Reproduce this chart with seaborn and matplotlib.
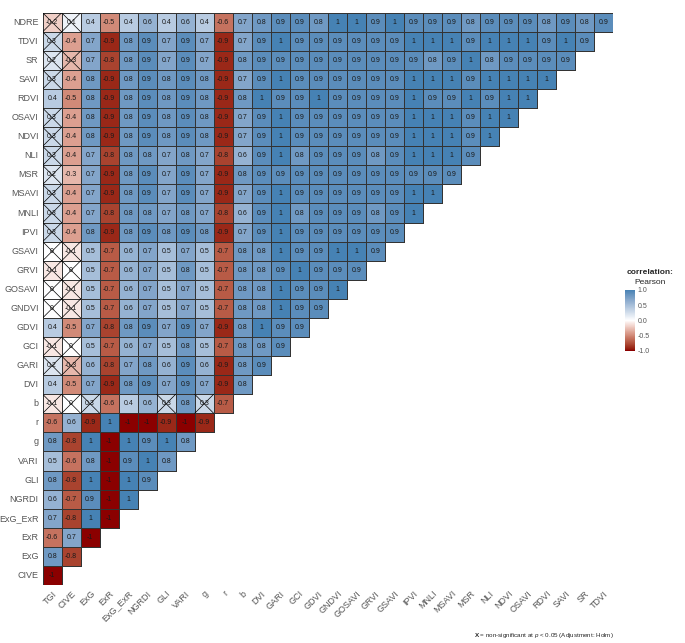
import numpy as np
import pandas as pd
import matplotlib
matplotlib.use("Agg")
import matplotlib.pyplot as plt
import seaborn as sns
from matplotlib.colors import ListedColormap, to_rgb

# column order (x axis) and row order (y axis, top to bottom)
columns = ["TGI", "CIVE", "ExG", "ExR", "ExG_ExR", "NGRDI", "GLI", "VARI", "g", "r",
           "b", "DVI", "GARI", "GCI", "GDVI", "GNDVI", "GOSAVI", "GRVI", "GSAVI", "IPVI",
           "MNLI", "MSAVI", "MSR", "NLI", "NDVI", "OSAVI", "RDVI", "SAVI", "SR", "TDVI"]
rows = ["NDRE", "TDVI", "SR", "SAVI", "RDVI", "OSAVI", "NDVI", "NLI", "MSR", "MSAVI",
        "MNLI", "IPVI", "GSAVI", "GRVI", "GOSAVI", "GNDVI", "GDVI", "GCI", "GARI", "DVI",
        "b", "r", "g", "VARI", "GLI", "NGRDI", "ExG_ExR", "ExR", "ExG", "CIVE"]

# lower triangle correlations, one list per row
NDRE = [-0.2, 0.1, 0.4, -0.5, 0.4, 0.6, 0.4, 0.6, 0.4, -0.6, 0.7, 0.8, 0.9, 0.9, 0.8,
        1, 1, 0.9, 1, 0.9, 0.9, 0.9, 0.8, 0.9, 0.9, 0.9, 0.8, 0.9, 0.8, 0.9]
TDVI = [0.3, -0.4, 0.7, -0.9, 0.8, 0.9, 0.7, 0.9, 0.7, -0.9, 0.7, 0.9, 1, 0.9, 0.9,
        0.9, 0.9, 0.9, 0.9, 1, 1, 1, 0.9, 1, 1, 1, 0.9, 1, 0.9]
SR = [0.2, -0.3, 0.7, -0.8, 0.8, 0.9, 0.7, 0.9, 0.7, -0.9, 0.8, 0.9, 0.9, 0.9, 0.9,
      0.9, 0.9, 0.9, 0.9, 0.9, 0.8, 0.9, 1, 0.8, 0.9, 0.9, 0.9, 0.9]
SAVI = [0.3, -0.4, 0.8, -0.9, 0.8, 0.9, 0.8, 0.9, 0.8, -0.9, 0.7, 0.9, 1, 0.9, 0.9,
        0.9, 0.9, 0.9, 0.9, 1, 1, 1, 0.9, 1, 1, 1, 1]
RDVI = [0.4, -0.5, 0.8, -0.9, 0.8, 0.9, 0.8, 0.9, 0.8, -0.9, 0.8, 1, 0.9, 0.9, 1,
        0.9, 0.9, 0.9, 0.9, 1, 0.9, 0.9, 1, 0.9, 1, 1]
OSAVI = [0.3, -0.4, 0.8, -0.9, 0.8, 0.9, 0.8, 0.9, 0.8, -0.9, 0.7, 0.9, 1, 0.9, 0.9,
         0.9, 0.9, 0.9, 0.9, 1, 1, 1, 0.9, 1, 1]
NDVI = [0.3, -0.4, 0.8, -0.9, 0.8, 0.9, 0.8, 0.9, 0.8, -0.9, 0.7, 0.9, 1, 0.9, 0.9,
        0.9, 0.9, 0.9, 0.9, 1, 1, 1, 0.9, 1]
NLI = [0.3, -0.4, 0.7, -0.8, 0.8, 0.8, 0.7, 0.8, 0.7, -0.8, 0.6, 0.9, 1, 0.8, 0.9,
       0.9, 0.9, 0.8, 0.9, 1, 1, 1, 0.9]
MSR = [0.2, -0.3, 0.7, -0.9, 0.8, 0.9, 0.7, 0.9, 0.7, -0.9, 0.8, 0.9, 0.9, 0.9, 0.9,
       0.9, 0.9, 0.9, 0.9, 0.9, 0.9, 0.9]
MSAVI = [0.3, -0.4, 0.7, -0.9, 0.8, 0.9, 0.7, 0.9, 0.7, -0.9, 0.7, 0.9, 1, 0.9, 0.9,
         0.9, 0.9, 0.9, 0.9, 1, 1]
MNLI = [0.3, -0.4, 0.7, -0.8, 0.8, 0.8, 0.7, 0.8, 0.7, -0.8, 0.6, 0.9, 1, 0.8, 0.9,
        0.9, 0.9, 0.8, 0.9, 1]
IPVI = [0.3, -0.4, 0.8, -0.9, 0.8, 0.9, 0.8, 0.9, 0.8, -0.9, 0.7, 0.9, 1, 0.9, 0.9,
        0.9, 0.9, 0.9, 0.9]
GSAVI = [0, -0.1, 0.5, -0.7, 0.6, 0.7, 0.5, 0.7, 0.5, -0.7, 0.8, 0.8, 1, 0.9, 0.9,
         1, 1, 0.9]
GRVI = [-0.1, 0, 0.5, -0.7, 0.6, 0.7, 0.5, 0.8, 0.5, -0.7, 0.8, 0.8, 0.9, 1, 0.9,
        0.9, 0.9]
GOSAVI = [0, -0.1, 0.5, -0.7, 0.6, 0.7, 0.5, 0.7, 0.5, -0.7, 0.8, 0.8, 1, 0.9, 0.9, 1]
GNDVI = [0, -0.1, 0.5, -0.7, 0.6, 0.7, 0.5, 0.7, 0.5, -0.7, 0.8, 0.8, 1, 0.9, 0.9]
GDVI = [0.4, -0.5, 0.7, -0.8, 0.8, 0.9, 0.7, 0.9, 0.7, -0.9, 0.8, 1, 0.9, 0.9]
GCI = [-0.1, 0, 0.5, -0.7, 0.6, 0.7, 0.5, 0.8, 0.5, -0.7, 0.8, 0.8, 0.9]
GARI = [0.2, -0.3, 0.6, -0.8, 0.7, 0.8, 0.6, 0.9, 0.6, -0.9, 0.8, 0.9]
DVI = [0.4, -0.5, 0.7, -0.9, 0.8, 0.9, 0.7, 0.9, 0.7, -0.9, 0.8]
b = [-0.1, 0, 0.3, -0.6, 0.4, 0.6, 0.3, 0.8, 0.3, -0.7]
r = [-0.6, 0.6, -0.9, 1, -1, -1, -0.9, -1, -0.9]
g = [0.8, -0.8, 1, -1, 1, 0.9, 1, 0.8]
VARI = [0.5, -0.6, 0.8, -1, 0.9, 1, 0.8]
GLI = [0.8, -0.8, 1, -1, 1, 0.9]
NGRDI = [0.6, -0.7, 0.9, -1, 1]
ExG_ExR = [0.7, -0.8, 1, -1]
ExR = [-0.6, 0.7, -1]
ExG = [0.8, -0.8]
CIVE = [-1]

row_values = [NDRE, TDVI, SR, SAVI, RDVI, OSAVI, NDVI, NLI, MSR, MSAVI, MNLI, IPVI,
              GSAVI, GRVI, GOSAVI, GNDVI, GDVI, GCI, GARI, DVI, b, r, g, VARI, GLI,
              NGRDI, ExG_ExR, ExR, ExG, CIVE]

# non-significant cells (crossed out)
nonsig = [("NDRE", "TGI"), ("NDRE", "CIVE"), ("TDVI", "TGI"), ("SR", "TGI"), ("SR", "CIVE"),
          ("SAVI", "TGI"), ("OSAVI", "TGI"), ("NDVI", "TGI"), ("NLI", "TGI"), ("MSR", "TGI"),
          ("MSAVI", "TGI"), ("MNLI", "TGI"), ("IPVI", "TGI"), ("GSAVI", "TGI"), ("GSAVI", "CIVE"),
          ("GRVI", "TGI"), ("GRVI", "CIVE"), ("GOSAVI", "TGI"), ("GOSAVI", "CIVE"),
          ("GNDVI", "TGI"), ("GNDVI", "CIVE"), ("GCI", "TGI"), ("GCI", "CIVE"),
          ("GARI", "TGI"), ("GARI", "CIVE"), ("b", "TGI"), ("b", "CIVE"), ("b", "ExG"),
          ("b", "GLI"), ("b", "g")]

mat = np.full((len(rows), len(columns)), np.nan)
for i, vals in enumerate(row_values):
    mat[i, :len(vals)] = vals
df = pd.DataFrame(mat, index=rows, columns=columns)
mask = df.isna()
labels = np.where(mask, "", df.map(lambda v: "" if np.isnan(v) else f"{v:g}"))


# diverging palette interpolated in Lab space (like ggplot's gradient2)
def srgb_to_lab(c):
    c = np.asarray(c, dtype=float)
    lin = np.where(c <= 0.04045, c / 12.92, ((c + 0.055) / 1.055) ** 2.4)
    m = np.array([[0.4124, 0.3576, 0.1805], [0.2126, 0.7152, 0.0722], [0.0193, 0.1192, 0.9505]])
    xyz = m @ lin / np.array([0.95047, 1.0, 1.08883])
    f = np.where(xyz > 0.008856, np.cbrt(xyz), 7.787 * xyz + 16 / 116)
    return np.array([116 * f[1] - 16, 500 * (f[0] - f[1]), 200 * (f[1] - f[2])])


def lab_to_srgb(lab):
    L, a, bb = lab
    fy = (L + 16) / 116
    fx = fy + a / 500
    fz = fy - bb / 200
    f = np.array([fx, fy, fz])
    xyz = np.where(f > 0.2069, f ** 3, (f - 16 / 116) / 7.787) * np.array([0.95047, 1.0, 1.08883])
    m = np.array([[3.2406, -1.5372, -0.4986], [-0.9689, 1.8758, 0.0415], [0.0557, -0.2040, 1.0570]])
    lin = m @ xyz
    c = np.where(lin <= 0.0031308, 12.92 * lin, 1.055 * np.clip(lin, 0, None) ** (1 / 2.4) - 0.055)
    return np.clip(c, 0, 1)


low, mid, high = [srgb_to_lab(to_rgb(c)) for c in ["darkred", "white", "steelblue"]]
steps = np.linspace(-1, 1, 256)
cols = [lab_to_srgb(mid + (low - mid) * (-s)) if s < 0 else lab_to_srgb(mid + (high - mid) * s)
        for s in steps]
cmap = ListedColormap(cols)

sns.set_style("white")
plt.rcParams['font.family'] = ['Liberation Sans', 'DejaVu Sans']
plt.rcParams['mathtext.fontset'] = 'custom'
plt.rcParams['mathtext.rm'] = 'Liberation Sans'
plt.rcParams['mathtext.it'] = 'Liberation Sans:italic'
plt.rcParams['mathtext.bf'] = 'Liberation Sans:bold'

fig = plt.figure(figsize=(6.85, 6.43), dpi=100)
ax = fig.add_axes([0.0623, 0.0902, 0.8322, 0.890])
cax = fig.add_axes([0.9124, 0.4546, 0.0146, 0.0944])

sns.heatmap(df, mask=mask, cmap=cmap, vmin=-1, vmax=1, annot=labels, fmt="",
            annot_kws={"size": 5, "color": "#1a1a1a"}, linewidths=0.6, linecolor="#333333",
            cbar=True, cbar_ax=cax, ax=ax)

# only outline the cells that are drawn (lower triangle)
mesh = ax.collections[0]
edge = np.where(mask.values.ravel()[:, None], [0, 0, 0, 0], [0.2, 0.2, 0.2, 1.0])
mesh.set_edgecolor(edge)

for rname, cname in nonsig:
    i = rows.index(rname)
    j = columns.index(cname)
    ax.plot([j, j + 1], [i, i + 1], color="black", lw=0.5)
    ax.plot([j, j + 1], [i + 1, i], color="black", lw=0.5)

ax.set_xlabel("")
ax.set_ylabel("")
ax.tick_params(axis="both", length=2, width=0.5, color="#555555", labelcolor="#555555",
               labelsize=6.5, pad=1)
ax.set_xticklabels(columns, rotation=45, ha="right", rotation_mode="anchor")
ax.set_yticklabels(rows, rotation=0)

cbar = ax.collections[0].colorbar
cbar.set_ticks([-1, -0.5, 0, 0.5, 1])
cbar.set_ticklabels(["-1.0", "-0.5", "0.0", "0.5", "1.0"])
cbar.outline.set_visible(False)
cax.tick_params(length=2, width=0.5, color="white", direction="in", labelsize=5,
                labelcolor="#555555", pad=2)

fig.text(0.949, 0.576, "correlation:", ha="center", va="center", fontsize=6, fontweight="bold")
fig.text(0.949, 0.5603, "Pearson", ha="center", va="center", fontsize=6)
fig.text(0.896, 0.011, r"$\mathbf{X}$ = non-significant at $\mathit{p}$ < 0.05 (Adjustment: Holm)",
         ha="right", va="center", fontsize=4.5)

fig.savefig("out.png", dpi=100)
